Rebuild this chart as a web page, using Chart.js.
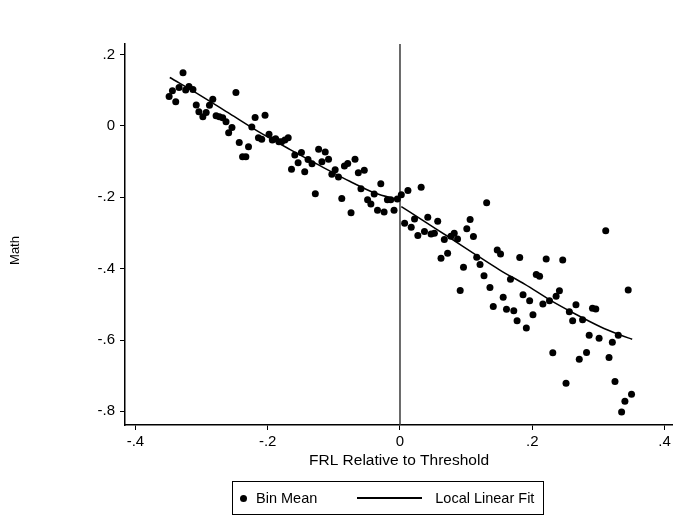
<!DOCTYPE html>
<html>
<head>
<meta charset="utf-8">
<title>Math by FRL relative to threshold</title>
<script src="https://cdn.jsdelivr.net/npm/chart.js@4.4.0/dist/chart.umd.min.js"></script>
<style>
    html, body { margin: 0; padding: 0; background: #fff; overflow: hidden; }
    #wrap { position: relative; width: 673px; height: 516px; overflow: hidden; }
    #rdChart { display: block; }
    #legend {
        position: absolute; left: 232px; top: 481px; height: 34px;
        border: 1px solid #000; box-sizing: border-box;
        display: flex; align-items: center; padding: 0 9px 0 7px;
        font: 14.5px 'Liberation Sans', Arial, Helvetica, sans-serif; color: #000;
    }
    #legend .dot { width: 7px; height: 7px; border-radius: 50%; background: #000; margin-right: 9px; }
    #legend .line { width: 65px; height: 1.5px; background: #000; margin: 0 13px 0 40px; }
</style>
</head>
<body>
<div id="wrap">
    <canvas id="rdChart" width="673" height="516"></canvas>
    <div id="legend"></div>
</div>
<script>
// ====== DATA ======
// bin means left of the threshold
const leftBinX = [-0.349, -0.344, -0.339, -0.334, -0.328, -0.324, -0.319, -0.313, -0.308, -0.304,
    -0.298, -0.293, -0.288, -0.283, -0.278, -0.273, -0.268, -0.263, -0.259, -0.254,
    -0.248, -0.243, -0.238, -0.233, -0.229, -0.224, -0.219, -0.214, -0.209, -0.204,
    -0.198, -0.193, -0.188, -0.183, -0.179, -0.174, -0.169, -0.164, -0.159, -0.154,
    -0.149, -0.144, -0.139, -0.133, -0.128, -0.123, -0.118, -0.113, -0.108, -0.103,
    -0.098, -0.093, -0.088, -0.084, -0.079, -0.074, -0.068, -0.063, -0.059, -0.054,
    -0.049, -0.044, -0.039, -0.034, -0.029, -0.024, -0.019, -0.014, -0.009, -0.004];
const leftBinY = [0.083, 0.099, 0.068, 0.108, 0.149, 0.101, 0.111, 0.102, 0.059, 0.040,
    0.026, 0.038, 0.058, 0.075, 0.029, 0.026, 0.023, 0.012, -0.019, -0.004,
    0.094, -0.046, -0.086, -0.086, -0.058, -0.003, 0.024, -0.033, -0.037, 0.030,
    -0.023, -0.039, -0.036, -0.044, -0.044, -0.039, -0.033, -0.121, -0.081, -0.103,
    -0.074, -0.128, -0.094, -0.106, -0.190, -0.065, -0.100, -0.073, -0.093, -0.135,
    -0.123, -0.143, -0.203, -0.112, -0.105, -0.243, -0.093, -0.131, -0.176, -0.124,
    -0.207, -0.219, -0.191, -0.236, -0.162, -0.241, -0.207, -0.207, -0.236, -0.205];

// bin means right of the threshold
const rightBinX = [0.002, 0.007, 0.012, 0.017, 0.022, 0.027, 0.032, 0.037, 0.042, 0.047,
    0.052, 0.057, 0.062, 0.067, 0.072, 0.077, 0.082, 0.087, 0.091, 0.096,
    0.101, 0.106, 0.111, 0.116, 0.121, 0.127, 0.131, 0.136, 0.141, 0.147,
    0.152, 0.156, 0.161, 0.167, 0.172, 0.177, 0.181, 0.186, 0.191, 0.196,
    0.201, 0.206, 0.211, 0.216, 0.221, 0.226, 0.231, 0.236, 0.241, 0.246,
    0.251, 0.256, 0.261, 0.266, 0.271, 0.276, 0.282, 0.286, 0.291, 0.296,
    0.301, 0.311, 0.316, 0.321, 0.325, 0.330, 0.335, 0.340, 0.345, 0.350];
const rightBinY = [-0.193, -0.273, -0.181, -0.284, -0.261, -0.307, -0.172, -0.296, -0.256, -0.303,
    -0.301, -0.267, -0.371, -0.318, -0.357, -0.309, -0.301, -0.317, -0.461, -0.396,
    -0.288, -0.262, -0.310, -0.368, -0.388, -0.420, -0.215, -0.453, -0.506, -0.348,
    -0.359, -0.480, -0.514, -0.430, -0.518, -0.546, -0.369, -0.473, -0.566, -0.490,
    -0.529, -0.416, -0.421, -0.499, -0.373, -0.490, -0.636, -0.477, -0.462, -0.376,
    -0.721, -0.521, -0.546, -0.501, -0.654, -0.543, -0.635, -0.587, -0.511, -0.513,
    -0.595, -0.294, -0.649, -0.606, -0.716, -0.587, -0.802, -0.772, -0.460, -0.752];

// local linear fit, each side
const leftFitX = [-0.348, -0.302, -0.257, -0.212, -0.166, -0.121, -0.076, -0.038, -0.002];
const leftFitY = [0.136, 0.086, 0.034, -0.018, -0.066, -0.111, -0.155, -0.188, -0.207];
const rightFitX = [0.002, 0.038, 0.076, 0.113, 0.151, 0.189, 0.227, 0.265, 0.302, 0.333, 0.351];
const rightFitY = [-0.226, -0.269, -0.314, -0.359, -0.404, -0.444, -0.488, -0.527, -0.562, -0.586, -0.598];

const threshold = 0;
const xRange = [-0.4157, 0.4127];
const yRange = [-0.8383, 0.2299];
const xTicks = [-0.4, -0.2, 0, 0.2, 0.4];
const xTickLabels = ['-.4', '-.2', '0', '.2', '.4'];
const yTicks = [0.2, 0, -0.2, -0.4, -0.6, -0.8];
const yTickLabels = ['.2', '0', '-.2', '-.4', '-.6', '-.8'];
const yTitle = 'Math';

// ====== HELPERS ======
const FONT = "'Liberation Sans', Arial, Helvetica, sans-serif";
const toPoints = (xs, ys) => xs.map((x, i) => ({ x: x, y: ys[i] }));
const labelFor = (ticks, labels) => (v) => {
    const i = ticks.findIndex(t => Math.abs(t - v) < 1e-9);
    return i >= 0 ? labels[i] : '';
};

// y title sits a bit lower than the plot centre in the original (stata style)
const yTitlePlugin = {
    id: 'yTitle',
    afterDraw(chart) {
        const { ctx, chartArea } = chart;
        ctx.save();
        ctx.translate(15, (chartArea.top + chartArea.bottom) / 2 + 16);
        ctx.rotate(-Math.PI / 2);
        ctx.font = '13px ' + FONT;
        ctx.fillStyle = '#000';
        ctx.textAlign = 'center';
        ctx.textBaseline = 'middle';
        ctx.fillText(yTitle, 0, 0);
        ctx.restore();
    }
};

// ====== CHART ======
const fitStyle = { borderColor: '#000', borderWidth: 1.5, pointRadius: 0, showLine: true, fill: false, cubicInterpolationMode: 'monotone' };

const chart = new Chart(document.getElementById('rdChart'), {
    type: 'scatter',
    data: {
        datasets: [
            { label: 'Bin Mean', legend: 'dot', data: toPoints(leftBinX, leftBinY).concat(toPoints(rightBinX, rightBinY)),
              backgroundColor: '#000', borderWidth: 0, pointRadius: 3.5, pointHoverRadius: 3.5 },
            Object.assign({ label: 'Local Linear Fit', legend: 'line', data: toPoints(leftFitX, leftFitY) }, fitStyle),
            Object.assign({ label: 'Local Linear Fit', data: toPoints(rightFitX, rightFitY) }, fitStyle),
            { label: 'threshold', data: [{ x: threshold, y: yRange[0] }, { x: threshold, y: yRange[1] }],
              showLine: true, borderColor: '#3a3a3a', borderWidth: 1.5, pointRadius: 0 }
        ]
    },
    options: {
        responsive: false,
        animation: false,
        layout: { autoPadding: false, padding: { top: 44, right: 0, bottom: 41, left: 0 } },
        plugins: { legend: { display: false }, tooltip: { enabled: false } },
        scales: {
            x: {
                type: 'linear', min: xRange[0], max: xRange[1],
                afterBuildTicks: (s) => { s.ticks = xTicks.map(v => ({ value: v })); },
                afterFit: (s) => { s.height = 50; s.paddingLeft = 0; s.paddingRight = 0; },
                ticks: { callback: labelFor(xTicks, xTickLabels), color: '#000', font: { family: FONT, size: 15 }, padding: 3, maxRotation: 0, autoSkip: false },
                grid: { drawOnChartArea: false, drawTicks: true, tickLength: 5, color: '#000', lineWidth: 1 },
                border: { display: true, color: '#000', width: 1.5 },
                title: { display: true, text: 'FRL Relative to Threshold', color: '#000', font: { family: FONT, size: 15.5 }, padding: { top: 0, bottom: 5 } }
            },
            y: {
                type: 'linear', min: yRange[0], max: yRange[1],
                afterBuildTicks: (s) => { s.ticks = yTicks.map(v => ({ value: v })); },
                afterFit: (s) => { s.width = 125; s.paddingTop = 0; s.paddingBottom = 0; },
                ticks: { callback: labelFor(yTicks, yTickLabels), color: '#000', font: { family: FONT, size: 15 }, padding: 5 },
                grid: { drawOnChartArea: false, drawTicks: true, tickLength: 5, color: '#000', lineWidth: 1 },
                border: { display: true, color: '#000', width: 1.5 }
            }
        }
    },
    plugins: [yTitlePlugin]
});

// ====== LEGEND (html, boxed like the original) ======
const legendBox = document.getElementById('legend');
chart.data.datasets.filter(ds => ds.legend).forEach(ds => {
    const mark = document.createElement('span');
    mark.className = ds.legend;
    const text = document.createElement('span');
    text.textContent = ds.label;
    legendBox.appendChild(mark);
    legendBox.appendChild(text);
});
</script>
</body>
</html>
